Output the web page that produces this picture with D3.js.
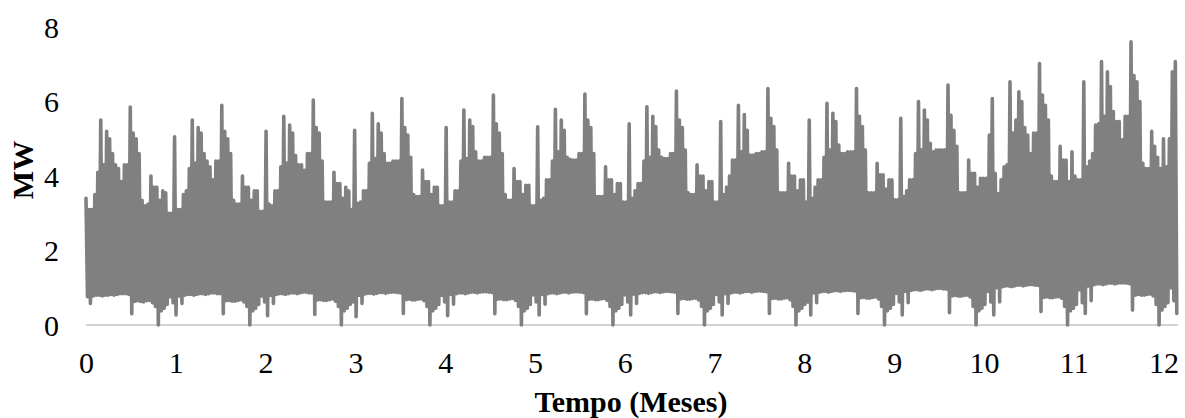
<!DOCTYPE html>
<html>
<head>
<meta charset="utf-8">
<script src="https://cdn.jsdelivr.net/npm/d3@7"></script>
<style>
  html, body { margin: 0; padding: 0; background: #fff; }
  svg { display: block; }
</style>
</head>
<body>
<svg id="chart" width="1185" height="418"></svg>
<script>
// ---- DATA ----
// Daily maximum power (MW), one value per day, 370 days
const dailyMax = [
  3.4, 3.1, 3.1, 3.5, 4.1, 5.5, 4.3, 5.2, 5.0, 4.6, 4.3, 4.2, 3.85, 4.3, 4.3, 5.85, 5.15, 5.0, 4.6, 3.35, 3.2, 3.25, 4.0, 3.7, 3.7, 3.35, 3.6, 3.55, 3.0, 3.0, 5.05,
  3.1, 3.1, 3.5, 3.6, 4.2, 5.5, 4.35, 5.3, 5.15, 4.6, 4.4, 4.25, 3.9, 4.4, 4.4, 5.9, 5.2, 5.0, 4.6, 3.35, 3.25, 3.25, 4.0, 3.7, 3.7, 3.35, 3.6, 3.6, 3.05, 3.05, 5.2,
  3.25, 3.2, 3.6, 3.6, 4.25, 5.6, 4.35, 5.37, 5.15, 4.55, 4.3, 4.3, 4.15, 4.6, 4.6, 6.04, 5.3, 5.15, 4.4, 3.3, 3.3, 3.3, 4.1, 3.8, 3.8, 3.4, 3.7, 3.6, 3.1, 5.23,
  3.27, 3.3, 3.6, 3.6, 4.34, 5.68, 4.47, 5.4, 5.15, 4.6, 4.34, 4.34, 4.4, 4.4, 4.4, 6.08, 5.3, 5.1, 4.5, 3.5, 3.45, 3.45, 4.16, 3.85, 3.85, 3.5, 3.7, 3.7, 3.2, 3.2, 5.3,
  3.3, 3.3, 3.6, 3.6, 4.4, 5.77, 4.47, 5.5, 5.33, 4.65, 4.4, 4.4, 4.5, 4.5, 4.5, 6.17, 5.4, 5.15, 4.6, 3.5, 3.35, 3.35, 4.2, 3.85, 3.85, 3.5, 3.75, 3.75, 3.2, 3.2, 5.32,
  3.35, 3.4, 3.9, 3.9, 4.4, 5.79, 4.65, 5.5, 5.23, 4.5, 4.45, 4.43, 4.43, 4.6, 4.6, 6.2, 5.5, 5.3, 4.6, 3.45, 3.45, 3.45, 4.25, 3.9, 3.9, 3.5, 3.8, 3.8, 3.3, 3.3, 5.4,
  3.4, 3.6, 3.8, 3.8, 4.4, 5.86, 4.5, 5.6, 5.33, 4.7, 4.5, 4.47, 4.47, 4.6, 4.6, 6.28, 5.5, 5.3, 4.7, 3.55, 3.5, 3.5, 4.3, 4.0, 4.0, 3.6, 3.85, 3.85, 3.3, 3.3, 5.46,
  3.5, 3.7, 4.0, 4.43, 4.43, 5.9, 4.65, 5.65, 5.23, 4.56, 4.56, 4.6, 4.6, 4.65, 4.65, 6.35, 5.55, 5.33, 4.7, 3.55, 3.55, 3.55, 4.34, 4.0, 4.0, 3.6, 3.9, 3.9, 3.3, 5.5,
  3.4, 3.7, 3.9, 3.9, 4.5, 5.95, 4.7, 5.68, 5.46, 4.83, 4.6, 4.6, 4.65, 4.65, 4.65, 6.35, 5.6, 5.33, 4.7, 3.55, 3.55, 3.55, 4.34, 4.03, 4.03, 3.65, 3.9, 3.9, 3.36, 3.36, 5.55,
  3.45, 3.6, 3.9, 3.9, 4.6, 6.0, 4.7, 5.77, 5.5, 4.88, 4.65, 4.7, 4.7, 4.7, 4.7, 6.44, 5.63, 5.23, 4.8, 3.55, 3.55, 3.55, 4.43, 4.07, 4.07, 3.7, 3.94, 3.94, 3.94, 5.1, 6.08,
  4.07, 3.53, 3.9, 4.25, 4.3, 6.53, 5.15, 5.5, 6.26, 6.0, 5.3, 5.1, 4.6, 5.15, 5.15, 7.02, 6.17, 5.9, 5.5, 4.0, 3.85, 3.85, 4.8, 4.43, 4.43, 3.85, 4.65, 4.0, 3.9, 3.9, 6.53,
  4.25, 4.4, 4.6, 5.37, 5.4, 7.07, 5.6, 6.8, 6.4, 5.73, 5.46, 5.46, 4.97, 5.6, 5.6, 7.6, 6.7, 6.53, 6.0, 4.34, 4.2, 4.2, 5.2, 4.8, 4.5, 4.2, 5.0, 4.25, 5.0, 6.8, 7.07
];
// Daily minimum power (MW), one value per day, 370 days
const dailyMin = [
  0.76, 0.58, 0.78, 0.8, 0.8, 0.78, 0.8, 0.8, 0.82, 0.8, 0.82, 0.84, 0.84, 0.84, 0.82, 0.3, 0.63, 0.65, 0.63, 0.62, 0.65, 0.66, 0.6, 0.5, 0.0, 0.38, 0.45, 0.55, 0.76, 0.6, 0.27,
  0.78, 0.58, 0.8, 0.82, 0.82, 0.8, 0.82, 0.84, 0.84, 0.82, 0.84, 0.86, 0.86, 0.84, 0.84, 0.3, 0.65, 0.66, 0.64, 0.64, 0.66, 0.68, 0.62, 0.5, 0.0, 0.38, 0.45, 0.55, 0.78, 0.62, 0.25,
  0.8, 0.58, 0.82, 0.84, 0.84, 0.82, 0.84, 0.86, 0.86, 0.84, 0.86, 0.88, 0.88, 0.86, 0.86, 0.28, 0.67, 0.68, 0.66, 0.66, 0.68, 0.7, 0.64, 0.5, 0.0, 0.38, 0.45, 0.55, 0.62, 0.22,
  0.8, 0.58, 0.83, 0.85, 0.85, 0.83, 0.85, 0.87, 0.87, 0.85, 0.87, 0.88, 0.88, 0.87, 0.86, 0.31, 0.68, 0.69, 0.67, 0.67, 0.69, 0.7, 0.65, 0.5, 0.0, 0.38, 0.45, 0.55, 0.8, 0.62, 0.25,
  0.82, 0.56, 0.84, 0.86, 0.86, 0.84, 0.86, 0.88, 0.88, 0.86, 0.88, 0.89, 0.89, 0.88, 0.87, 0.3, 0.69, 0.7, 0.68, 0.68, 0.7, 0.71, 0.66, 0.5, 0.0, 0.38, 0.45, 0.55, 0.81, 0.62, 0.27,
  0.82, 0.56, 0.84, 0.86, 0.86, 0.84, 0.86, 0.88, 0.88, 0.86, 0.88, 0.89, 0.89, 0.88, 0.87, 0.3, 0.69, 0.7, 0.68, 0.68, 0.7, 0.71, 0.66, 0.5, 0.0, 0.38, 0.45, 0.55, 0.81, 0.62, 0.27,
  0.83, 0.58, 0.85, 0.87, 0.87, 0.85, 0.87, 0.89, 0.89, 0.87, 0.89, 0.9, 0.9, 0.89, 0.88, 0.31, 0.7, 0.71, 0.69, 0.69, 0.71, 0.72, 0.67, 0.5, 0.0, 0.38, 0.45, 0.55, 0.82, 0.62, 0.27,
  0.84, 0.58, 0.86, 0.88, 0.88, 0.86, 0.88, 0.9, 0.9, 0.88, 0.9, 0.91, 0.91, 0.9, 0.89, 0.31, 0.71, 0.72, 0.7, 0.7, 0.72, 0.73, 0.68, 0.5, 0.0, 0.38, 0.45, 0.55, 0.62, 0.27,
  0.86, 0.6, 0.88, 0.9, 0.9, 0.88, 0.9, 0.92, 0.92, 0.9, 0.92, 0.93, 0.93, 0.92, 0.91, 0.31, 0.73, 0.74, 0.72, 0.72, 0.74, 0.75, 0.7, 0.5, 0.0, 0.38, 0.45, 0.55, 0.85, 0.62, 0.27,
  0.9, 0.6, 0.93, 0.95, 0.95, 0.93, 0.95, 0.97, 0.97, 0.95, 0.97, 0.98, 0.98, 0.97, 0.96, 0.33, 0.78, 0.79, 0.77, 0.77, 0.79, 0.8, 0.75, 0.5, 0.0, 0.38, 0.45, 0.55, 0.9, 0.62, 0.27,
  1.0, 0.62, 1.03, 1.05, 1.05, 1.03, 1.05, 1.07, 1.07, 1.05, 1.07, 1.08, 1.08, 1.07, 1.06, 0.36, 0.74, 0.75, 0.73, 0.73, 0.75, 0.76, 0.72, 0.5, 0.0, 0.38, 0.45, 0.55, 0.95, 0.6, 0.31,
  1.05, 0.65, 1.08, 1.1, 1.1, 1.08, 1.1, 1.12, 1.12, 1.1, 1.12, 1.13, 1.13, 1.12, 1.11, 0.4, 0.8, 0.82, 0.8, 0.8, 0.82, 0.83, 0.78, 0.55, 0.0, 0.4, 0.5, 0.6, 1.0, 0.65, 0.31
];
const xTicks = [0, 1, 2, 3, 4, 5, 6, 7, 8, 9, 10, 11, 12];
const yTicks = [0, 2, 4, 6, 8];
const xTitle = "Tempo (Meses)";
const yTitle = "MW";
const DAYS_PER_MONTH = 365 / 12;

// ---- LAYOUT ----
const svg = d3.select("#chart");
const x = d3.scaleLinear().domain([0, 12]).range([86, 1163.5]);
const y = d3.scaleLinear().domain([0, 8]).range([325, 27]);
const serif = "'Liberation Serif', 'Times New Roman', Times, serif";

// zig-zag series: daily max then daily min
const points = [];
dailyMax.forEach((v, i) => {
  points.push({ t: i / DAYS_PER_MONTH, v: v });
  points.push({ t: (i + 0.5) / DAYS_PER_MONTH, v: dailyMin[i] });
});
const lastT = points[points.length - 1].t;

// baseline at 0
svg.append("line")
  .attr("x1", x(0)).attr("x2", x(lastT) + 1)
  .attr("y1", y(0)).attr("y2", y(0))
  .attr("stroke", "#a6a6a6").attr("stroke-width", 1);

svg.append("path")
  .datum(points)
  .attr("fill", "none")
  .attr("stroke", "#808080")
  .attr("stroke-width", 3.6)
  .attr("stroke-linejoin", "round")
  .attr("stroke-linecap", "round")
  .attr("d", d3.line().x(d => x(d.t)).y(d => y(d.v)));

// x axis labels
const xAxis = d3.axisBottom(x).tickValues(xTicks).tickFormat(d3.format("d")).tickSize(0).tickPadding(0);
const gx = svg.append("g").attr("transform", `translate(0, 352)`).call(xAxis);
gx.select(".domain").remove();
gx.selectAll("text")
  .attr("dy", "0.71em").attr("y", 0)
  .style("font-family", serif).style("font-size", "30px").attr("fill", "#000");

// y axis labels
const yAxis = d3.axisLeft(y).tickValues(yTicks).tickFormat(d3.format("d")).tickSize(0).tickPadding(0);
const gy = svg.append("g").attr("transform", `translate(59, 0)`).call(yAxis);
gy.select(".domain").remove();
gy.selectAll("text")
  .attr("x", 0).attr("dy", "0.34em")
  .style("font-family", serif).style("font-size", "30px").attr("fill", "#000");

// titles
svg.append("text")
  .attr("x", 631).attr("y", 412)
  .attr("text-anchor", "middle")
  .style("font-family", serif).style("font-size", "30px").style("font-weight", "bold")
  .text(xTitle);

svg.append("text")
  .attr("transform", "translate(33, 170) rotate(-90)")
  .attr("text-anchor", "middle")
  .style("font-family", serif).style("font-size", "30px").style("font-weight", "bold")
  .text(yTitle);
</script>
</body>
</html>
